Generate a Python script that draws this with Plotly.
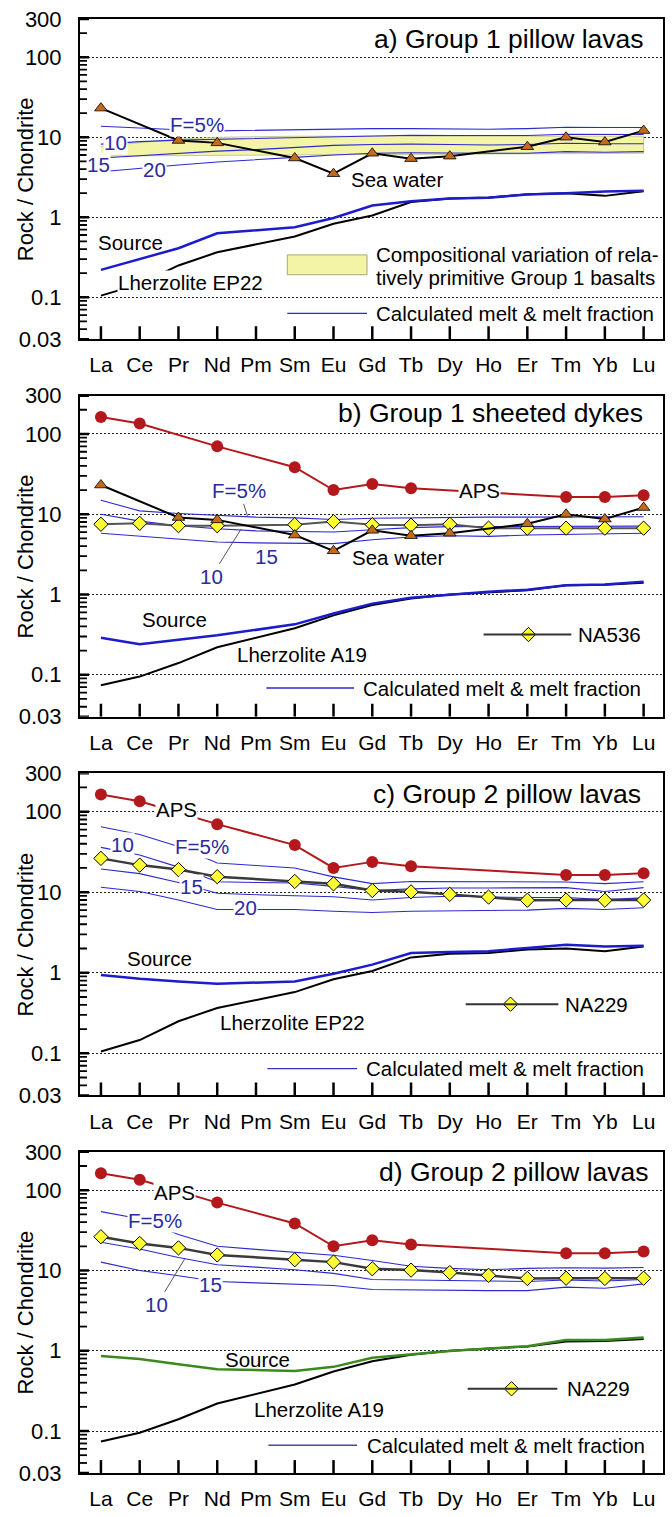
import math
import plotly.graph_objects as go

ELEMENTS = ["La", "Ce", "Pr", "Nd", "Pm", "Sm", "Eu", "Gd", "Tb", "Dy", "Ho", "Er", "Tm", "Yb", "Lu"]
N = None

SEA_WATER = [23.1, N, 9.1, 8.5, N, 5.5, 3.5, 6.3, 5.4, 5.8, N, 7.6, 10.0, 8.7, 12.1]
APS = [163, 135, N, 70, N, 38.5, 20.0, 23.8, 21.0, N, N, N, 16.4, 16.4, 17.2]
NA536 = [7.5, 7.7, 7.2, 7.2, N, 7.4, 8.1, 7.4, 7.3, 7.5, 6.7, 6.7, 6.7, 6.7, 6.7]
NA229 = [26.3, 21.7, 19.1, 15.6, N, 13.6, 12.7, 10.5, 10.1, 9.4, 8.7, 7.95, 8.0, 7.95, 8.0]

LHERZ_EP22 = [0.105, 0.146, 0.25, 0.365, N, 0.575, 0.83, 1.05, 1.55, 1.72, 1.76, 1.94, 2.0, 1.85, 2.12]
LHERZ_A19 = [0.074, 0.095, 0.14, 0.22, N, 0.38, 0.55, 0.74, 0.89, 1.0, 1.07, 1.13, 1.3, 1.32, 1.4]

SOURCE_A = [0.22, N, 0.41, 0.63, N, 0.75, 0.98, 1.4, 1.58, 1.72, 1.75, 1.93, 2.0, 2.1, 2.15]
SOURCE_B = [0.29, 0.24, N, 0.31, N, 0.425, 0.58, 0.77, 0.91, 1.0, 1.08, 1.15, 1.3, 1.33, 1.44]
SOURCE_C = [0.94, 0.84, 0.78, 0.73, N, 0.78, 0.97, 1.26, 1.76, 1.81, 1.85, 2.03, 2.23, 2.12, 2.16]
SOURCE_D = [0.86, 0.79, 0.68, 0.59, N, 0.56, 0.63, 0.82, 0.91, 0.99, 1.07, 1.14, 1.36, 1.36, 1.46]

BAND_UPPER = [7.7, 8.6, 9.5, 10.0, 10.2, 10.3, 10.3, 10.3, 10.3, 10.3, 10.3, 10.3, 10.3, 10.3, 10.3]
BAND_LOWER = [5.8, 5.85, 5.9, 5.95, 6.0, 6.0, 6.05, 6.1, 6.1, 6.15, 6.2, 6.2, 6.25, 6.25, 6.3]

MELT_A_F5 = [13.7, 13.0, 12.4, 12.0, 12.2, 12.5, 12.6, 12.8, 12.8, 12.6, 12.6, 12.8, 13.3, 13.2, 13.2]
MELT_A_F10 = [8.2, 8.8, 9.2, 9.4, 9.6, 9.8, 10.0, 10.4, 10.6, 10.5, 10.4, 10.5, 10.9, 10.8, 10.8]
MELT_A_F15 = [5.5, 5.9, 6.3, 6.7, 7.0, 7.4, 7.9, 8.1, 8.2, 8.1, 8.0, 8.1, 8.4, 8.3, 8.3]
MELT_A_F20 = [3.7, 4.1, 4.5, 4.9, 5.2, 5.6, 6.0, 6.3, 6.4, 6.3, 6.3, 6.3, 6.6, 6.5, 6.6]

MELT_B_F5 = [14.9, 11.0, 10.2, 9.6, 9.2, 9.0, 8.6, 8.9, 9.0, 9.2, 9.2, 9.2, 9.3, 9.2, 9.3]
MELT_B_F10 = [10.0, 8.2, 7.2, 6.6, 6.2, 6.1, 6.0, 6.4, 6.8, 7.0, 7.0, 7.0, 7.1, 7.0, 7.1]
MELT_B_F15 = [5.8, 5.3, 4.9, 4.5, 4.4, 4.35, 4.3, 4.8, 5.2, 5.4, 5.3, 5.5, 5.6, 5.6, 5.8]

MELT_C_F5 = [65, 52, 37, 23, 21.5, 20, 15.5, 12.8, 13.6, 13.5, 13.4, 13.4, 13.4, 12.8, 13.5]
MELT_C_F10 = [36, 29, 20.5, 13.5, 13.2, 13.0, 11.8, 10.5, 11.0, 11.3, 11.3, 11.4, 11.4, 10.2, 11.4]
MELT_C_F15 = [19.4, 17.0, 13.2, 9.7, 9.3, 9.0, 8.8, 8.0, 8.6, 8.9, 8.7, 8.6, 8.6, 8.1, 8.5]
MELT_C_F20 = [11.5, 10.2, 8.0, 6.1, 6.1, 6.1, 5.8, 5.6, 5.8, 5.9, 5.9, 6.0, 6.3, 6.1, 6.4]

MELT_D_F5 = [54, 44, 28, 20, 18.3, 17.0, 15.5, 13.3, 11.3, 10.6, 10.2, 10.6, 10.8, 10.7, 10.9]
MELT_D_F10 = [22.5, 18.5, 14.5, 11.8, 11.0, 10.2, 9.2, 7.7, 7.6, 7.5, 7.4, 7.3, 7.6, 7.4, 7.7]
MELT_D_F15 = [12.7, 10.0, 8.6, 7.3, 7.0, 6.8, 6.5, 5.8, 5.7, 5.7, 5.6, 5.6, 6.2, 6.0, 6.8]

Y_TICKS = [0.03, 0.1, 1, 10, 100, 300]
Y_TICK_TEXT = ["0.03", "0.1", "1", "10", "100", "300"]
Y_MINOR = [0.04, 0.05, 0.06, 0.07, 0.08, 0.09, 0.2, 0.3, 0.4, 0.5, 0.6, 0.7, 0.8, 0.9,
           2, 3, 4, 5, 6, 7, 8, 9, 20, 30, 40, 50, 60, 70, 80, 90, 200]

X = list(range(len(ELEMENTS)))

FONT = "Liberation Sans, Arial, Helvetica, sans-serif"
W, H = 672, 1517
L, R = 80, 665
T = [15, 395, 776, 1158]
B = [338, 719, 1101, 1482]
MT, MB = 15, H - 1482
XR = [-0.54, 14.5]
YR = [math.log10(0.03), math.log10(300)]

BLUE_THIN = "#2a2ad0"
BLUE_SRC = "#1c1ccc"
LABEL_BLUE = "#2b2ba0"
RED = "#b3191c"
TXT = 20.5
TICK_COLOR = "black"

fig = go.Figure()


def axn(k):
    return ("x" if k == 0 else f"x{k+1}", "y" if k == 0 else f"y{k+1}")


def dom(k, px, py):
    return (px - L) / (R - L), (B[k] - py) / (B[k] - T[k])


def px2data(k, px, py):
    xd, yd = dom(k, px, py)
    return XR[0] + xd * (XR[1] - XR[0]), 10 ** (YR[0] + yd * (YR[1] - YR[0]))


def line(k, y, color, width, **kw):
    xa, ya = axn(k)
    fig.add_trace(go.Scatter(x=X, y=y, xaxis=xa, yaxis=ya, mode="lines", connectgaps=True,
                             line=dict(color=color, width=width), showlegend=False,
                             hoverinfo="skip", **kw))


def markers(k, y, lcolor, lwidth, symbol, size, fill, mline="black", mlw=1):
    xa, ya = axn(k)
    fig.add_trace(go.Scatter(x=X, y=y, xaxis=xa, yaxis=ya, mode="lines+markers", connectgaps=True,
                             line=dict(color=lcolor, width=lwidth),
                             marker=dict(symbol=symbol, size=size, color=fill,
                                         line=dict(color=mline, width=mlw)),
                             showlegend=False, hoverinfo="skip"))


def label(k, xc, val, text, color="black", bg=False, size=TXT, **kw):
    xa, ya = axn(k)
    fig.add_annotation(x=xc, y=math.log10(val), xref=xa, yref=ya, text=text, showarrow=False,
                       font=dict(family=FONT, size=size, color=color),
                       bgcolor="white" if bg else "rgba(0,0,0,0)", borderpad=0, **kw)


def plabel(k, px, py, text, size=TXT, color="black", xanchor="left", **kw):
    xa, ya = axn(k)
    xd, yd = dom(k, px, py)
    fig.add_annotation(x=xd, y=yd, xref=xa + " domain", yref=ya + " domain", text=text,
                       showarrow=False, xanchor=xanchor, yanchor="middle",
                       font=dict(family=FONT, size=size, color=color), **kw)


def leader(k, xc, val, text, dx, dy, color=LABEL_BLUE):
    xa, ya = axn(k)
    fig.add_annotation(x=xc, y=math.log10(val), xref=xa, yref=ya, text=text, showarrow=True,
                       arrowhead=0, arrowwidth=1, arrowcolor="#555555", ax=dx, ay=dy,
                       font=dict(family=FONT, size=TXT, color=color), borderpad=1)


def melt_legend(k, px0, px1, py, tx, color=BLUE_THIN):
    xa, ya = axn(k)
    x0, y0 = dom(k, px0, py)
    x1, _ = dom(k, px1, py)
    fig.add_shape(type="line", xref=xa + " domain", yref=ya + " domain", x0=x0, x1=x1, y0=y0, y1=y0,
                  line=dict(color=color, width=1.3))
    plabel(k, tx, py, "Calculated melt &amp; melt fraction")


def sample_legend(k, px0, px1, pxm, py, tx, name):
    xa, ya = axn(k)
    x0, y0 = dom(k, px0, py)
    x1, _ = dom(k, px1, py)
    fig.add_shape(type="line", xref=xa + " domain", yref=ya + " domain", x0=x0, x1=x1, y0=y0, y1=y0,
                  line=dict(color="#333333", width=2))
    xm, ym = px2data(k, pxm, py)
    fig.add_trace(go.Scatter(x=[xm], y=[ym], xaxis=xa, yaxis=ya, mode="markers",
                             marker=dict(symbol="diamond", size=11, color="#ffff33",
                                         line=dict(color="black", width=1)),
                             showlegend=False, hoverinfo="skip"))
    plabel(k, tx, py, name)


def title(k, px, py, text):
    plabel(k, px, py, text, size=26.5, xanchor="right")


def ytitle(k):
    xa, ya = axn(k)
    fig.add_annotation(x=(25 - L) / (R - L), y=0.5, xref=xa + " domain", yref=ya + " domain",
                       text="Rock / Chondrite", textangle=-90, showarrow=False,
                       xanchor="center", yanchor="middle",
                       font=dict(family=FONT, size=22, color="black"))


def axis_ticks(k):
    """Inside tick marks drawn as line traces (x at each element, y major + minor log ticks)."""
    xa, ya = axn(k)
    ph = B[k] - T[k]
    pw = R - L
    ytop = 10 ** (YR[0] + 13 / ph * (YR[1] - YR[0]))
    xs, ys = [], []
    for xi in X:
        xs += [xi, xi, None]
        ys += [10 ** YR[0], ytop, None]
    fig.add_trace(go.Scatter(x=xs, y=ys, xaxis=xa, yaxis=ya, mode="lines",
                             line=dict(color=TICK_COLOR, width=2.5), showlegend=False, hoverinfo="skip"))
    for vals, ln, wd in ((Y_TICKS, 9, 2.5), (Y_MINOR, 7, 1.8)):
        xr = XR[0] + ln / pw * (XR[1] - XR[0])
        xs, ys = [], []
        for v in vals:
            xs += [XR[0], xr, None]
            ys += [v, v, None]
        fig.add_trace(go.Scatter(x=xs, y=ys, xaxis=xa, yaxis=ya, mode="lines",
                                 line=dict(color=TICK_COLOR, width=wd), showlegend=False,
                                 hoverinfo="skip"))


# ---------------- Panel a ----------------
k = 0
xa, ya = axn(k)
fig.add_trace(go.Scatter(x=X + X[::-1], y=BAND_UPPER + BAND_LOWER[::-1], xaxis=xa, yaxis=ya,
                         mode="lines", fill="toself", fillcolor="#f4f4a6",
                         line=dict(color="#a8a878", width=0.6), showlegend=False, hoverinfo="skip"))
for m in (MELT_A_F5, MELT_A_F10, MELT_A_F15, MELT_A_F20):
    line(k, m, BLUE_THIN, 1.1)
line(k, LHERZ_EP22, "black", 2)
line(k, SOURCE_A, BLUE_SRC, 2.5)
markers(k, SEA_WATER, "black", 2, "triangle-up", 11, "#c46a1b", mlw=0.8)
label(k, 2.47, 14.6, "F=5%", LABEL_BLUE, bg=True)
label(k, 0.38, 8.5, "10", LABEL_BLUE, bg=True)
label(k, -0.05, 4.5, "15", LABEL_BLUE, bg=True)
label(k, 1.39, 3.93, "20", LABEL_BLUE, bg=True)
plabel(k, 350, 177, "Sea water")
plabel(k, 96, 241, "Source")
plabel(k, 117, 281, "Lherzolite EP22", bgcolor="white", borderpad=0)
x0, y0 = dom(k, 288, 273)
x1, y1 = dom(k, 368, 253)
fig.add_shape(type="rect", xref=xa + " domain", yref=ya + " domain", x0=x0, x1=x1, y0=y0, y1=y1,
              fillcolor="#f4f4a6", line=dict(color="#a8a878", width=1))
plabel(k, 375, 253, "Compositional variation of rela-")
plabel(k, 375, 276, "tively primitive Group 1 basalts")
melt_legend(k, 288, 368, 312, 375)
title(k, 648, 35, "a) Group 1 pillow lavas")

# ---------------- Panel b ----------------
k = 1
for m in (MELT_B_F5, MELT_B_F10, MELT_B_F15):
    line(k, m, BLUE_THIN, 1.1)
line(k, LHERZ_A19, "black", 2)
line(k, SOURCE_B, BLUE_SRC, 2.5)
markers(k, NA536, "#555555", 2, "diamond", 11, "#ffff33")
markers(k, SEA_WATER, "black", 2, "triangle-up", 11, "#c46a1b", mlw=0.8)
markers(k, APS, RED, 2, "circle", 12, RED, mline=RED, mlw=0)
label(k, 9.77, 19.6, "APS", bg=True)
leader(k, 3.78, 9.53, "F=5%", -8, -25)
leader(k, 3.62, 6.58, "10", -30, 48)
label(k, 4.27, 2.96, "15", LABEL_BLUE)
plabel(k, 351, 558, "Sea water")
plabel(k, 140, 621, "Source")
plabel(k, 236, 656, "Lherzolite A19")
sample_legend(k, 485, 573, 530, 636, 578, "NA536")
melt_legend(k, 267, 355, 690, 362)
title(k, 647, 413, "b) Group 1 sheeted dykes")

# ---------------- Panel c ----------------
k = 2
for m in (MELT_C_F5, MELT_C_F10, MELT_C_F15, MELT_C_F20):
    line(k, m, BLUE_THIN, 1.1)
line(k, LHERZ_EP22, "black", 2)
line(k, SOURCE_C, BLUE_SRC, 2.5)
markers(k, NA229, "#3a3a3a", 2.5, "diamond", 11, "#ffff33")
markers(k, APS, RED, 2, "circle", 12, RED, mline=RED, mlw=0)
label(k, 1.95, 105, "APS", bg=True)
label(k, 2.6, 37, "F=5%", LABEL_BLUE, bg=True)
label(k, 0.56, 39.3, "10", LABEL_BLUE, bg=True)
label(k, 2.33, 11.9, "15", LABEL_BLUE, bg=True)
label(k, 3.72, 6.4, "20", LABEL_BLUE, bg=True)
plabel(k, 125, 963, "Source")
plabel(k, 218, 1027, "Lherzolite EP22")
sample_legend(k, 467, 560, 512, 1009, 565, "NA229")
melt_legend(k, 268, 358, 1074, 365, color="#3434b0")
title(k, 645, 797, "c) Group 2 pillow lavas")

# ---------------- Panel d ----------------
k = 3
for m in (MELT_D_F5, MELT_D_F10, MELT_D_F15):
    line(k, m, BLUE_THIN, 1.1)
line(k, LHERZ_A19, "black", 2)
line(k, SOURCE_D, "#3c8a1e", 2.5)
markers(k, NA229, "#3a3a3a", 2.5, "diamond", 11, "#ffff33")
markers(k, APS, RED, 2, "circle", 12, RED, mline=RED, mlw=0)
label(k, 1.9, 93.5, "APS", bg=True)
label(k, 1.39, 41.7, "F=5%", LABEL_BLUE, bg=True)
leader(k, 2.16, 13.9, "10", -28, 46)
label(k, 2.82, 6.71, "15", LABEL_BLUE, bg=True)
plabel(k, 223, 1367, "Source")
plabel(k, 253, 1418, "Lherzolite A19")
sample_legend(k, 469, 559, 513, 1397, 567, "NA229")
melt_legend(k, 269, 358, 1454, 366, color="#4a4a92")
title(k, 653, 1178, "d) Group 2 pillow lavas")

# ---------------- Axes ----------------
layout = dict(width=W, height=H, margin=dict(l=L, r=W - R, t=MT, b=MB),
              paper_bgcolor="white", plot_bgcolor="white", showlegend=False)
plot_h = H - MT - MB
for k in range(4):
    sx = "" if k == 0 else str(k + 1)
    d0 = (B[3] - B[k]) / plot_h
    d1 = (B[3] - T[k]) / plot_h
    layout["xaxis" + sx] = dict(
        range=XR, domain=[0, 1], anchor="y" + sx, tickmode="array", tickvals=X, ticktext=ELEMENTS,
        ticks="", showline=True, linecolor="black", linewidth=2, mirror=True,
        showgrid=False, zeroline=False, ticklabelstandoff=6,
        tickfont=dict(family=FONT, size=21, color="black"))
    layout["yaxis" + sx] = dict(
        type="log", range=YR, domain=[d0, min(d1, 1)], anchor="x" + sx,
        tickmode="array", tickvals=Y_TICKS, ticktext=Y_TICK_TEXT, ticks="",
        showline=True, linecolor="black", linewidth=2, mirror=True,
        showgrid=True, gridcolor="#222222", gridwidth=1, griddash="2px,2px", zeroline=False,
        ticklabelstandoff=12, tickfont=dict(family=FONT, size=22, color="black"))
    ytitle(k)
    axis_ticks(k)

fig.update_layout(**layout)
fig.write_html("out.html")
